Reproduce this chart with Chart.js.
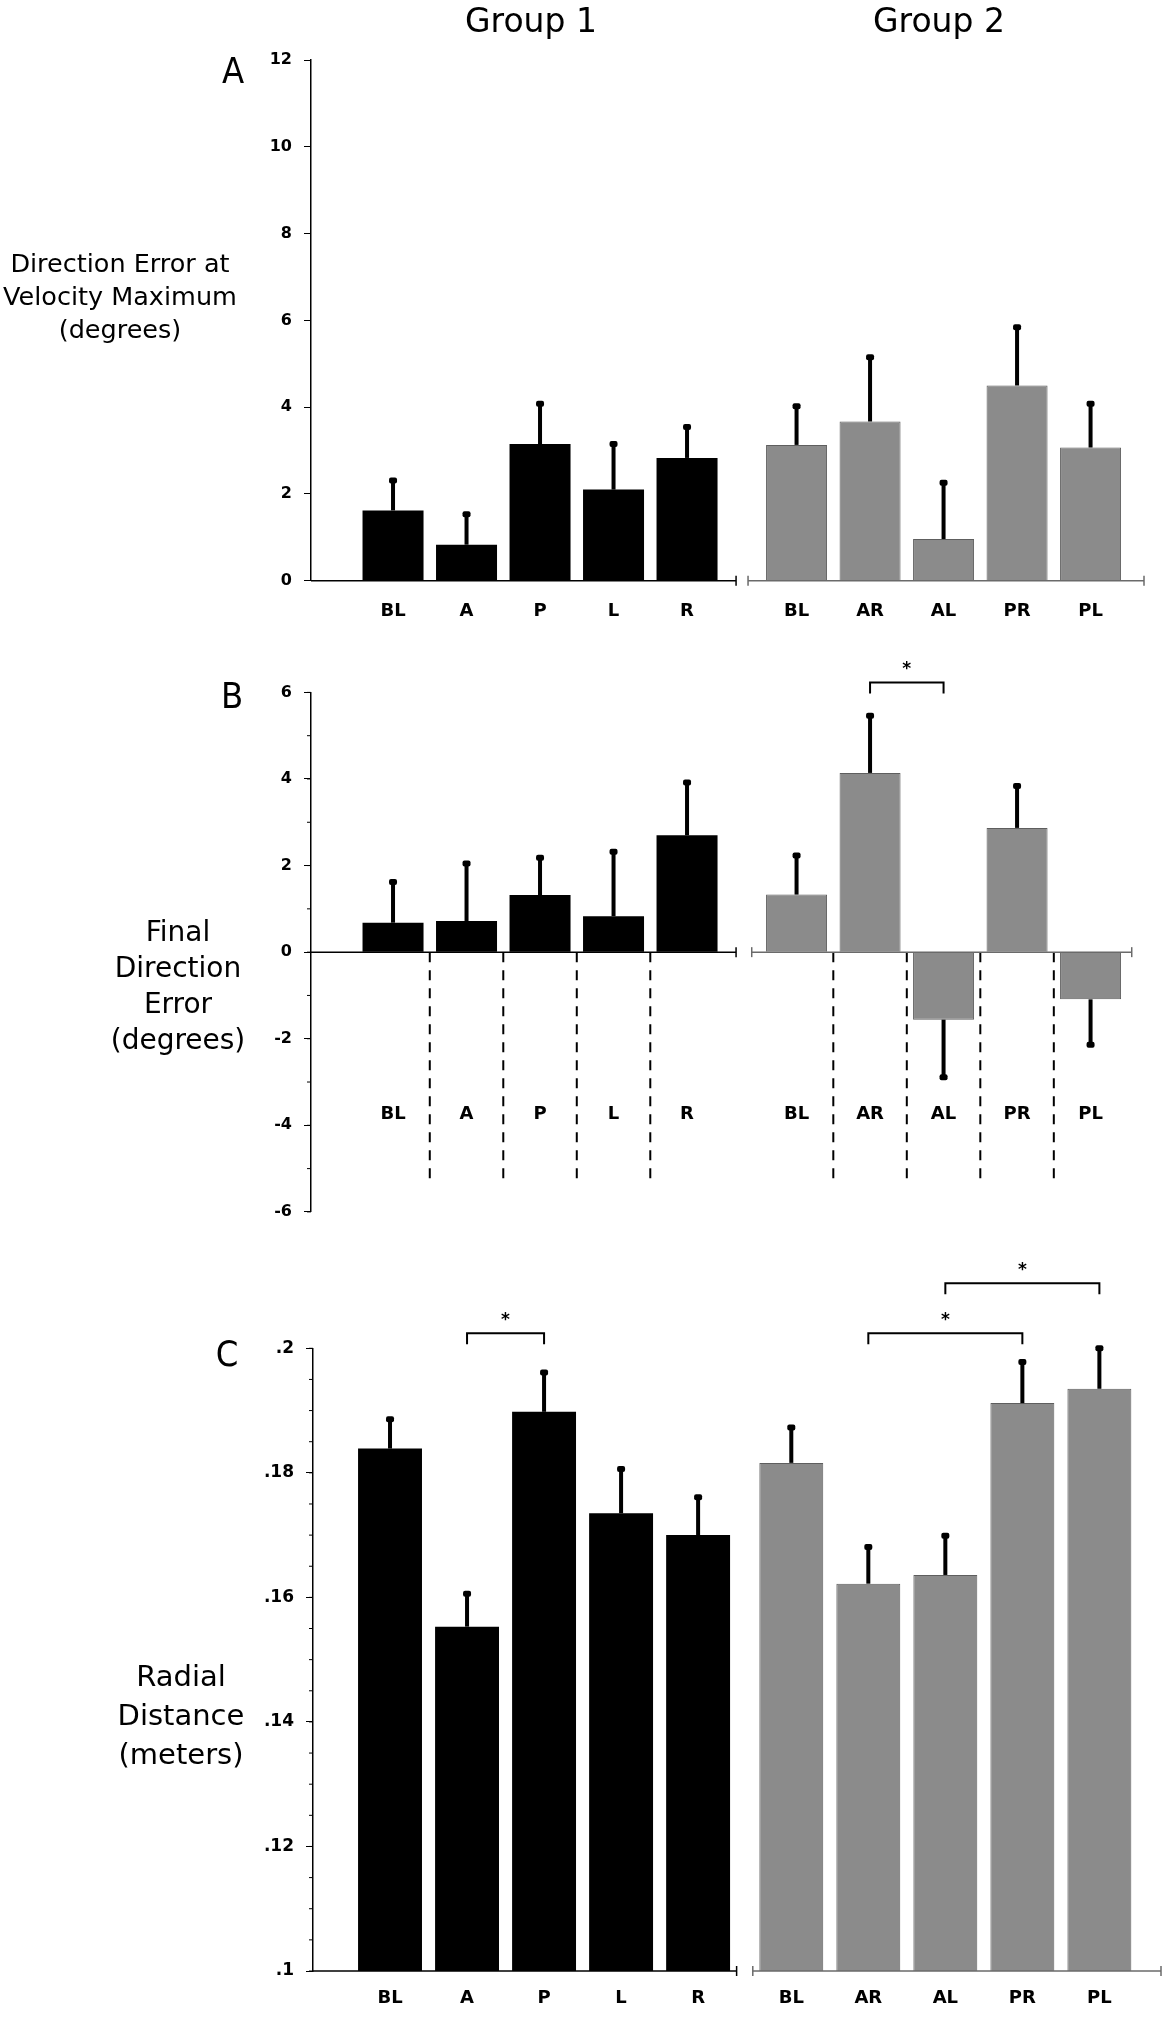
<!DOCTYPE html>
<html>
<head>
<meta charset="utf-8">
<title>Direction error and radial distance, Group 1 vs Group 2</title>
<script src="https://cdn.jsdelivr.net/npm/chart.js@4.4.1/dist/chart.umd.min.js"></script>
<style>
  html, body { margin: 0; padding: 0; background: #fff; }
  body { position: relative; width: 1167px; height: 2017px; overflow: hidden; font-family: "DejaVu Sans", sans-serif; color: #000; }
  .panel { position: absolute; left: 0; width: 1167px; }
  .label { position: absolute; text-align: center; white-space: nowrap; }
  .group { font-size: 33px; line-height: 33px; width: 300px; top: 4px; }
  .letter { font-family: "Liberation Sans Narrow", "DejaVu Sans Condensed", sans-serif; font-size: 36px; line-height: 36px; width: 60px; }
</style>
</head>
<body>
<div class="panel" style="top:0;height:640px"><canvas id="panelA"></canvas></div>
<div class="panel" style="top:640px;height:600px"><canvas id="panelB"></canvas></div>
<div class="panel" style="top:1240px;height:777px"><canvas id="panelC"></canvas></div>

<div class="label group" style="left:381px">Group 1</div>
<div class="label group" style="left:789px">Group 2</div>

<div class="label letter" style="left:203px;top:53px">A</div>
<div class="label letter" style="left:202px;top:678px">B</div>
<div class="label letter" style="left:197px;top:1336px">C</div>

<div class="label" style="left:0;width:240px;top:247px;font-size:25.5px;line-height:33px">Direction Error at<br>Velocity Maximum<br>(degrees)</div>
<div class="label" style="left:58px;width:240px;top:914px;font-size:28px;line-height:36px">Final<br>Direction<br>Error<br>(degrees)</div>
<div class="label" style="left:61px;width:240px;top:1657px;font-size:29px;line-height:39px">Radial<br>Distance<br>(meters)</div>

<script>
// conditions
const groupOneLabels = ['BL', 'A', 'P', 'L', 'R'];
const groupTwoLabels = ['BL', 'AR', 'AL', 'PR', 'PL'];

// A - direction error at velocity maximum (degrees), mean and s.e.
const velMaxG1 = [1.62, 0.83, 3.15, 2.10, 2.83];
const velMaxG1Err = [0.69, 0.70, 0.93, 1.05, 0.71];
const velMaxG2 = [3.13, 3.67, 0.96, 4.50, 3.07];
const velMaxG2Err = [0.89, 1.48, 1.30, 1.34, 1.01];
const velMaxTicks = [0, 2, 4, 6, 8, 10, 12];

// B - final direction error (degrees)
const finalDirG1 = [0.68, 0.72, 1.32, 0.83, 2.70];
const finalDirG1Err = [0.94, 1.33, 0.86, 1.49, 1.22];
const finalDirG2 = [1.33, 4.14, -1.56, 2.87, -1.09];
const finalDirG2Err = [0.90, 1.32, 1.33, 0.97, 1.05];
const finalDirTicks = [-6, -4, -2, 0, 2, 4, 6];

// C - radial distance (meters)
const radialG1 = [0.1839, 0.1553, 0.1898, 0.1735, 0.1700];
const radialG1Err = [0.0047, 0.0053, 0.0063, 0.0071, 0.0061];
const radialG2 = [0.1816, 0.1622, 0.1636, 0.1912, 0.1935];
const radialG2Err = [0.0057, 0.0059, 0.0063, 0.0066, 0.0065];
const radialTicks = [0.1, 0.12, 0.14, 0.16, 0.18, 0.2];

// significant pairs (* p < .05): [group, from, to]
const finalDirSig = [[2, 'AR', 'AL']];
const radialSig = [[1, 'A', 'P'], [2, 'AR', 'PR'], [2, 'AL', 'PL']];

Chart.defaults.font.family = '"DejaVu Sans", sans-serif';
Chart.defaults.color = '#000';

const panelExtras = {
    id: 'panelExtras',
    afterDatasetsDraw(chart, args, opts) {
        const { ctx, chartArea } = chart;
        const xs = chart.scales.x;
        const ys = chart.scales.y;
        ctx.save();

        // short minor ticks on the value axis
        if (opts.minorStep) {
            const n = Math.round((ys.max - ys.min) / opts.minorStep);
            ctx.strokeStyle = '#000';
            ctx.lineWidth = 1;
            for (let k = 0; k <= n; k++) {
                const y = ys.getPixelForValue(ys.min + k * opts.minorStep);
                ctx.beginPath();
                ctx.moveTo(chartArea.left - 4, y);
                ctx.lineTo(chartArea.left, y);
                ctx.stroke();
            }
        }

        // dashed separators between conditions (panel B)
        if (opts.dashes) {
            ctx.strokeStyle = '#000';
            ctx.lineWidth = 2;
            ctx.setLineDash([10, 8]);
            opts.dashes.xs.forEach(v => {
                const x = xs.getPixelForValue(v);
                ctx.beginPath();
                ctx.moveTo(x, ys.getPixelForValue(0));
                ctx.lineTo(x, ys.getPixelForValue(opts.dashes.to));
                ctx.stroke();
            });
            ctx.setLineDash([]);
        }

        // one-sided error bars
        ctx.fillStyle = '#000';
        chart.data.datasets.forEach((ds, d) => {
            const meta = chart.getDatasetMeta(d);
            meta.data.forEach((bar, j) => {
                const v = ds.data[j].y;
                const e = ds.errors[j];
                const end = ys.getPixelForValue(v < 0 ? v - e : v + e);
                ctx.fillRect(bar.x - 2, Math.min(bar.y, end), 4, Math.abs(end - bar.y));
                ctx.beginPath();
                if (ctx.roundRect) ctx.roundRect(bar.x - 4, end - 3, 8, 6, 2);
                else ctx.rect(bar.x - 4, end - 3, 8, 6);
                ctx.fill();
            });
        });

        // broken category axis
        const y0 = ys.getPixelForValue(opts.baseline);
        ctx.lineWidth = 1.5;
        opts.segments.forEach(seg => {
            ctx.strokeStyle = seg.color;
            ctx.beginPath();
            ctx.moveTo(xs.getPixelForValue(seg.from), y0);
            ctx.lineTo(xs.getPixelForValue(seg.to), y0);
            ctx.stroke();
            seg.ticks.forEach(t => {
                const x = xs.getPixelForValue(t);
                ctx.beginPath();
                ctx.moveTo(x, y0 - 5);
                ctx.lineTo(x, y0 + 5);
                ctx.stroke();
            });
        });

        // significance brackets
        ctx.strokeStyle = '#000';
        ctx.lineWidth = 2;
        ctx.font = 'bold 17px "DejaVu Sans"';
        ctx.textAlign = 'center';
        ctx.textBaseline = 'middle';
        (opts.brackets || []).forEach(b => {
            const xa = xs.getPixelForValue(b.from);
            const xb = xs.getPixelForValue(b.to);
            const top = chartArea.top - b.rise;
            ctx.beginPath();
            ctx.moveTo(xa, top + 11);
            ctx.lineTo(xa, top);
            ctx.lineTo(xb, top);
            ctx.lineTo(xb, top + 11);
            ctx.stroke();
            ctx.fillText('*', (xa + xb) / 2, top - 13);
        });

        ctx.restore();
    }
};

function makePanel(canvasId, cfg) {
    const lay = cfg.layout;
    const pos1 = groupOneLabels.map((_, i) => i + 1);
    const pos2 = groupTwoLabels.map((_, i) => i + lay.g2Start);
    const allPos = pos1.concat(pos2);
    const allLabels = groupOneLabels.concat(groupTwoLabels);
    const posOf = (g, name) => g === 1 ? pos1[groupOneLabels.indexOf(name)] : pos2[groupTwoLabels.indexOf(name)];

    const dashes = cfg.dashTo === undefined ? null : {
        to: cfg.dashTo,
        xs: pos1.slice(1).map(p => p - 0.5).concat(pos2.slice(1).map(p => p - 0.5))
    };

    return new Chart(document.getElementById(canvasId), {
        type: 'bar',
        data: {
            datasets: [
                {
                    label: 'Group 1',
                    data: cfg.g1.map((v, i) => ({ x: pos1[i], y: v })),
                    errors: cfg.g1Err,
                    backgroundColor: '#000',
                    borderWidth: 0,
                    grouped: false,
                    categoryPercentage: 1,
                    barPercentage: 0.83
                },
                {
                    label: 'Group 2',
                    data: cfg.g2.map((v, i) => ({ x: pos2[i], y: v })),
                    errors: cfg.g2Err,
                    backgroundColor: '#8b8b8b',
                    borderColor: '#5e5e5e',
                    borderWidth: 1,
                    grouped: false,
                    categoryPercentage: 1,
                    barPercentage: 0.83
                }
            ]
        },
        options: {
            animation: false,
            responsive: true,
            maintainAspectRatio: false,
            layout: { padding: cfg.padding },
            plugins: {
                legend: { display: false },
                tooltip: { enabled: false },
                panelExtras: {
                    minorStep: cfg.minorStep,
                    baseline: cfg.yMin > 0 ? cfg.yMin : 0,
                    dashes: dashes,
                    segments: [
                        { from: lay.xMin, to: lay.breakL, ticks: [lay.breakL], color: '#000' },
                        { from: lay.breakR, to: lay.axisEnd, ticks: [lay.breakR, lay.axisEnd], color: '#6a6a6a' }
                    ],
                    brackets: (cfg.sig || []).map((s, k) => ({
                        from: posOf(s[0], s[1]),
                        to: posOf(s[0], s[2]),
                        rise: cfg.rises[k]
                    }))
                }
            },
            scales: {
                x: {
                    type: 'linear',
                    offset: false,
                    min: lay.xMin,
                    max: lay.xMax,
                    position: cfg.xAxisAt === undefined ? 'bottom' : { y: cfg.xAxisAt },
                    afterBuildTicks: s => { s.ticks = allPos.map(v => ({ value: v })); },
                    afterFit: s => { if (cfg.xAxisAt === undefined) s.height = 45; },
                    ticks: {
                        autoSkip: false,
                        maxRotation: 0,
                        padding: cfg.labelPad,
                        font: { size: 18, weight: 'bold' },
                        callback: (v, i) => allLabels[i]
                    },
                    grid: { display: false, drawTicks: false, offset: false },
                    border: { display: false }
                },
                y: {
                    type: 'linear',
                    min: cfg.yMin,
                    max: cfg.yMax,
                    afterBuildTicks: s => { s.ticks = cfg.yTicks.map(v => ({ value: v })); },
                    afterFit: s => { s.width = cfg.axisX; },
                    ticks: {
                        padding: 12,
                        font: { size: cfg.yFont, weight: 'bold' },
                        callback: cfg.yFormat || (v => String(v))
                    },
                    grid: { display: true, drawOnChartArea: false, drawTicks: true, tickLength: 7, color: '#000', lineWidth: 1 },
                    border: { display: true, color: '#000', width: 1.5 }
                }
            }
        },
        plugins: [panelExtras]
    });
}

const layoutAB = { xMin: -0.116, xMax: 11.217, g2Start: 6.49, breakL: 5.667, breakR: 5.83, axisEnd: 11.217 };

makePanel('panelA', {
    g1: velMaxG1, g1Err: velMaxG1Err, g2: velMaxG2, g2Err: velMaxG2Err,
    yMin: 0, yMax: 12, yTicks: velMaxTicks,
    layout: layoutAB,
    padding: { top: 60.1, left: 0, right: 23, bottom: 14.3 },
    axisX: 311, labelPad: 19.5, yFont: 16
});

makePanel('panelB', {
    g1: finalDirG1, g1Err: finalDirG1Err, g2: finalDirG2, g2Err: finalDirG2Err,
    yMin: -6, yMax: 6, yTicks: finalDirTicks, minorStep: 1,
    layout: Object.assign({}, layoutAB, { breakR: 5.88, axisEnd: 11.05 }),
    padding: { top: 52.4, left: 0, right: 23, bottom: 28.1 },
    axisX: 311, labelPad: 0, yFont: 16,
    xAxisAt: -3.49, dashTo: -5.23,
    sig: finalDirSig, rises: [10]
});

makePanel('panelC', {
    g1: radialG1, g1Err: radialG1Err, g2: radialG2, g2Err: radialG2Err,
    yMin: 0.1, yMax: 0.2, yTicks: radialTicks, minorStep: 0.005,
    yFormat: v => v.toFixed(2).replace(/0+$/, '').replace(/^0/, ''),
    layout: { xMin: 0, xMax: 11.01, g2Start: 6.21, breakL: 5.5, breakR: 5.71, axisEnd: 11.01 },
    padding: { top: 108.3, left: 0, right: 6, bottom: 1 },
    axisX: 313, labelPad: 16.2, yFont: 17,
    sig: radialSig, rises: [15, 15, 65]
});
</script>
</body>
</html>
